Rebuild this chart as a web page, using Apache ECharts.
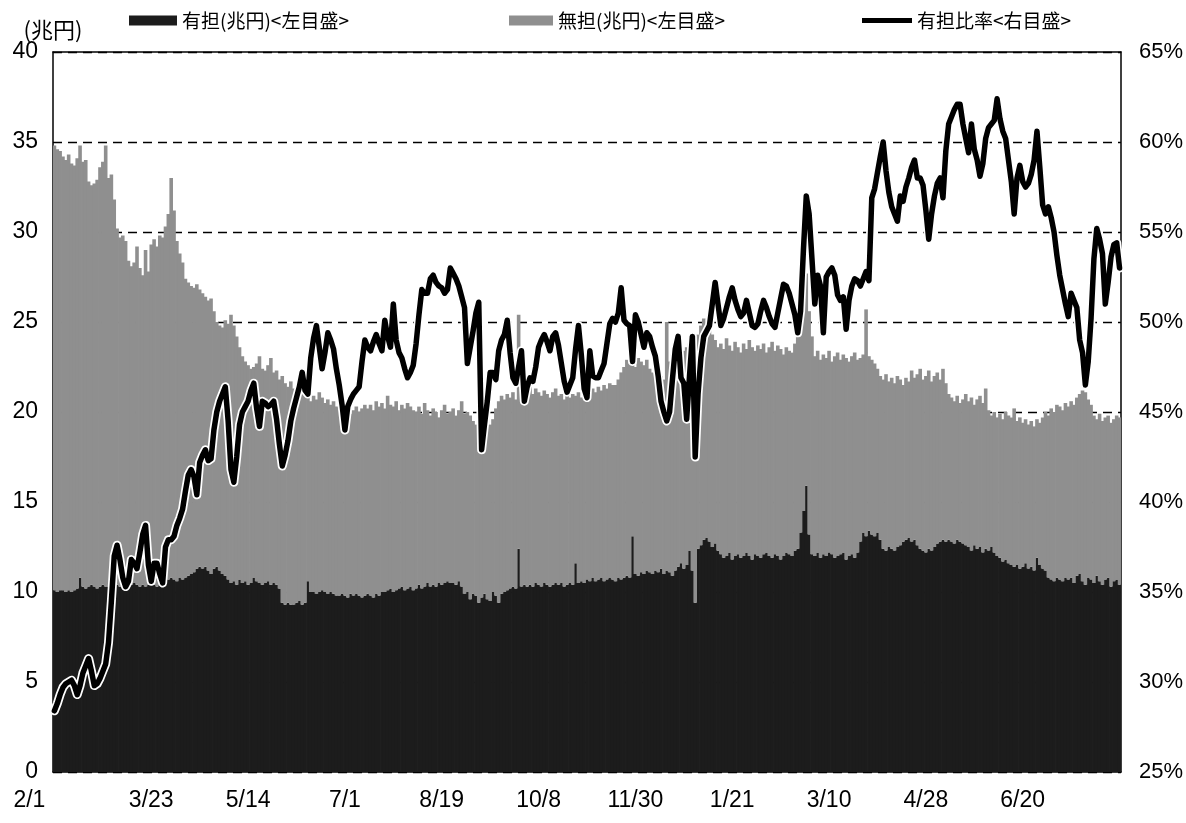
<!DOCTYPE html>
<html>
<head>
<meta charset="utf-8">
<script src="https://cdn.jsdelivr.net/npm/echarts@6/dist/echarts.min.js"></script>
<style>
html,body{margin:0;padding:0;background:#fff;}
#chart{width:1186px;height:823px;}
</style>
</head>
<body>
<div id="chart"></div>
<script>
// tick labels shown every 34 business days
const tickLabels = ['2/1','3/23','5/14','7/1','8/19','10/8','11/30','1/21','3/10','4/28','6/20'];
const tickEvery = 34;

// 有担 (兆円), left axis
const yuTan = [
10.1,10.0,10.1,10.1,10.0,10.1,10.0,10.1,10.2,10.8,
10.3,10.2,10.3,10.4,10.3,10.2,10.3,10.4,10.3,10.3,
10.4,10.3,10.4,10.3,10.5,10.4,10.3,10.4,10.5,10.4,
10.3,10.4,10.3,10.4,10.5,10.4,10.3,10.4,10.7,10.8,
10.7,10.8,10.7,10.6,10.8,10.7,10.8,10.9,11.0,11.1,
11.3,11.4,11.3,11.4,11.2,11.0,11.3,11.4,11.2,11.0,
10.9,10.7,10.5,10.6,10.4,10.7,10.5,10.6,10.4,10.5,
10.8,10.6,10.5,10.4,10.5,10.6,10.4,10.5,10.4,10.2,
9.4,9.3,9.4,9.3,9.3,9.4,9.5,9.3,9.4,10.6,
10.0,10.0,9.9,10.0,10.1,10.0,9.9,10.0,9.9,9.8,
9.8,9.9,9.8,9.7,9.9,9.8,9.9,9.8,9.7,9.8,
9.9,9.8,9.7,9.9,9.8,10.0,10.0,10.1,10.2,10.0,
10.1,10.2,10.3,10.1,10.2,10.3,10.1,10.2,10.4,10.2,
10.3,10.5,10.3,10.4,10.3,10.5,10.4,10.5,10.6,10.5,
10.5,10.4,10.6,10.3,9.9,10.0,9.6,9.9,9.8,9.4,
9.7,9.9,9.6,9.5,10.0,9.8,9.4,9.9,10.0,10.1,
10.2,10.3,10.2,12.4,10.3,10.4,10.3,10.4,10.3,10.5,
10.4,10.3,10.5,10.4,10.3,10.4,10.5,10.4,10.5,10.3,
10.4,10.5,10.4,11.6,10.5,10.6,10.5,10.7,10.6,10.8,
10.6,10.7,10.8,10.6,10.7,10.8,10.7,10.6,10.8,10.7,
10.8,10.9,10.8,13.1,11.0,10.9,11.1,11.0,11.2,11.1,
11.0,11.2,11.1,11.3,11.0,11.2,11.1,10.9,11.2,11.4,
11.6,11.3,11.5,12.3,11.2,9.4,12.4,12.6,12.9,13.0,
12.8,12.5,12.7,12.3,12.1,11.9,12.0,12.2,11.8,12.0,
12.1,11.9,12.0,12.2,12.0,11.8,12.1,12.0,11.9,12.1,
12.2,12.0,11.9,12.1,12.0,11.8,12.0,12.2,12.1,12.0,
12.3,12.4,13.3,14.5,15.9,13.2,12.1,12.0,12.2,11.9,
12.1,12.0,12.2,12.1,11.9,12.0,12.1,12.2,11.8,12.0,
12.1,11.9,12.2,12.8,13.3,13.1,13.4,13.2,13.1,13.3,
12.9,12.4,12.3,12.5,12.4,12.3,12.5,12.6,12.8,12.9,
13.0,12.8,12.9,12.6,12.4,12.3,12.2,12.4,12.3,12.5,
12.7,12.8,12.9,12.8,12.9,12.8,12.7,12.9,12.8,12.7,
12.6,12.5,12.3,12.6,12.4,12.5,12.2,12.4,12.3,12.5,
12.2,12.0,11.9,11.7,11.8,11.6,11.5,11.4,11.5,11.3,
11.4,11.6,11.3,11.4,11.2,11.9,11.5,11.3,11.2,10.8,
10.7,10.6,10.8,10.7,10.6,10.8,10.7,10.8,10.5,10.9,
11.0,10.6,10.4,10.8,10.7,10.5,10.9,10.6,10.4,10.7,
10.8,10.3,10.6,10.7,10.4
];

// 無担 (兆円), left axis, stacked on 有担
const muTan = [
24.7,24.6,24.4,24.1,24.0,24.2,23.8,23.6,23.9,24.0,
23.6,23.8,22.5,22.2,22.4,22.7,23.3,23.5,24.5,22.7,
22.8,21.5,19.8,19.4,19.3,19.1,18.1,17.7,17.8,18.8,
17.7,17.2,18.7,17.4,18.8,19.2,18.9,19.4,19.0,19.5,
20.3,22.2,20.5,18.9,18.0,17.6,16.6,16.3,16.0,15.8,
15.8,15.4,15.3,15.0,15.0,15.3,14.3,13.6,13.6,13.7,
14.2,14.2,14.9,14.2,13.8,12.9,12.6,12.2,12.2,11.9,
11.7,12.1,12.6,12.0,11.8,12.0,12.6,11.7,11.9,11.6,
12.6,12.3,12.0,12.4,12.0,11.6,12.0,11.8,11.5,10.2,
10.6,10.9,10.8,11.1,10.7,10.5,10.8,10.4,10.7,10.5,
10.3,10.5,10.2,10.5,10.0,10.3,10.4,10.2,10.5,10.6,
10.3,10.6,10.4,10.7,10.5,10.5,10.2,10.8,10.2,10.3,
10.5,9.9,10.1,10.1,10.3,10.0,10.0,9.8,9.9,9.7,
10.2,9.6,9.5,9.8,9.7,9.2,9.7,9.9,9.3,9.5,
9.7,9.4,9.5,10.3,10.0,10.0,10.2,9.6,9.5,10.2,
9.5,9.5,10.1,9.8,9.6,10.4,11.2,11.0,10.7,10.9,
10.6,10.8,10.5,13.0,10.7,10.4,10.9,11.0,10.7,10.8,
10.7,10.6,10.7,10.6,10.5,10.7,10.8,10.5,10.5,10.4,
10.8,10.3,10.6,9.3,10.6,10.2,10.4,10.5,10.4,10.5,
10.5,10.7,10.4,10.9,10.6,10.8,10.8,10.9,11.0,11.5,
11.7,12.0,11.9,10.0,11.5,12.1,11.7,11.6,11.7,11.3,
11.2,10.9,10.8,10.7,10.8,13.8,11.7,12.3,12.3,11.9,
12.1,12.1,12.1,11.5,12.7,12.6,11.9,12.2,12.3,12.0,
11.8,11.8,11.3,11.3,11.7,11.6,12.1,11.5,11.6,11.9,
11.5,11.4,11.8,11.3,12.0,11.8,11.3,11.7,11.6,11.7,
11.1,11.6,12.0,11.3,11.7,11.7,11.2,11.4,11.3,11.3,
11.5,12.1,12.0,12.0,11.8,12.4,12.1,11.1,11.2,11.0,
11.1,11.0,11.2,10.7,11.2,11.3,10.8,11.0,11.2,10.8,
11.0,11.4,10.7,10.2,9.9,12.6,9.7,9.7,9.6,9.1,
9.1,9.4,9.8,9.2,9.5,9.3,9.5,9.2,8.7,9.0,
8.7,9.5,9.0,9.5,10.0,9.5,9.8,9.9,9.4,9.5,
9.5,9.0,9.5,8.8,8.1,8.0,7.9,8.0,7.7,8.0,
8.4,8.1,8.5,7.8,8.3,8.4,8.3,8.9,7.8,7.3,
7.8,7.7,8.0,7.9,8.2,8.2,8.2,8.8,8.0,8.4,
8.0,8.0,8.0,8.1,8.0,7.7,7.9,8.4,8.8,9.0,
9.5,9.4,9.6,9.6,9.5,9.7,9.6,9.8,9.9,9.9,
10.0,10.6,10.7,9.9,9.7,9.3,8.7,9.3,9.1,9.0,
9.0,9.1,9.0,9.1,9.3
];

// 有担比率 (%), right axis
const ratio = [
28.4,28.8,29.3,29.7,29.9,30.0,30.1,29.8,29.3,29.8,
30.5,30.9,31.3,30.6,29.8,29.9,30.2,30.6,31.0,32.2,
34.5,37.0,37.6,36.8,35.8,35.3,35.6,36.8,36.6,36.3,
37.2,38.2,38.7,36.5,35.6,36.6,36.6,36.0,35.5,37.5,
37.9,37.9,38.1,38.7,39.1,39.6,40.6,41.5,41.8,41.4,
40.4,42.2,42.6,42.9,42.3,42.4,44.0,45.0,45.6,46.0,
46.4,44.5,41.8,41.1,42.5,44.3,45.0,45.3,45.6,46.2,
46.6,45.2,44.2,45.6,45.5,45.3,45.4,45.6,44.6,43.2,
42.0,42.6,43.4,44.5,45.2,45.8,46.4,47.2,46.2,46.0,
48.0,49.1,49.8,48.6,47.4,48.3,49.4,49.0,48.5,47.4,
46.5,45.4,44.0,45.3,45.7,46.0,46.2,46.4,47.8,49.0,
48.6,48.4,48.9,49.3,48.8,48.4,50.1,49.2,48.6,51.0,
49.0,48.3,48.0,47.4,46.9,47.2,47.6,48.8,50.4,51.8,
51.6,51.6,52.4,52.6,52.2,52.0,51.9,51.6,51.8,53.0,
52.7,52.4,52.0,51.4,50.8,47.7,48.6,49.5,50.5,51.1,
42.9,44.3,45.6,47.2,47.2,46.8,48.4,49.0,49.3,50.1,
48.3,46.9,46.6,47.5,48.4,45.6,46.4,46.9,46.7,47.5,
48.6,49.0,49.3,48.9,48.4,49.2,49.4,48.7,47.7,46.7,
46.1,46.5,46.9,48.5,49.8,48.2,46.3,45.8,48.4,47.0,
46.9,46.9,47.3,47.7,48.8,49.9,50.2,50.0,50.5,51.9,
50.1,49.9,49.8,47.8,50.4,50.0,49.3,48.6,49.4,49.2,
48.6,48.1,47.0,45.6,45.0,44.5,45.0,46.8,48.5,49.2,
46.9,46.6,44.6,47.0,49.2,42.5,46.0,48.0,49.2,49.5,
49.8,51.0,52.2,51.0,49.8,50.2,50.8,51.4,51.9,51.2,
50.7,50.3,50.5,51.2,50.5,49.8,49.7,49.9,50.6,51.2,
50.8,50.3,49.9,49.7,50.5,51.3,52.1,52.0,51.6,51.0,
50.4,49.4,50.6,54.0,57.0,56.0,53.5,51.0,52.6,52.0,
49.4,52.5,52.8,53.0,52.6,51.5,51.2,51.4,49.6,51.2,
52.0,52.4,52.3,52.0,52.4,52.8,52.3,56.9,57.4,58.3,
59.2,60.0,58.4,57.2,56.4,56.0,55.6,57.0,56.7,57.5,
58.0,58.6,59.0,58.0,58.0,57.6,56.2,54.6,56.0,57.0,
57.7,58.0,56.9,59.5,61.0,61.4,61.8,62.1,62.1,61.0,
60.2,59.4,61.0,59.6,59.0,58.1,58.8,60.2,60.8,61.0,
61.2,62.4,61.3,60.6,60.2,59.0,57.8,56.0,58.0,58.7,
57.8,57.5,57.7,58.2,59.0,60.6,58.6,56.5,56.0,56.4,
55.8,55.0,53.7,52.6,51.8,51.0,50.3,51.6,51.2,50.8,
49.0,48.3,46.5,47.8,50.2,53.5,55.2,54.6,53.8,51.0,
52.2,53.6,54.3,54.4,53.0
];

const categories = yuTan.map((_, i) => String(i));

const NUM_FONT = "'Liberation Sans Narrow','Liberation Sans',sans-serif";
const JP_FONT = "'Noto Sans CJK JP','Noto Sans',sans-serif";

const chart = echarts.init(document.getElementById('chart'), null, {renderer: 'canvas'});
const legendText = {fontSize: 19, fontFamily: JP_FONT, color: '#000'};
const numStyle = {color: '#000', fontSize: 23, fontFamily: NUM_FONT};

chart.setOption({
  animation: false,
  backgroundColor: '#fff',
  grid: {left: 53, right: 65, top: 52, bottom: 51},
  legend: [
    {left: 124, top: 6, itemWidth: 48, itemHeight: 10, icon: 'rect', selectedMode: false, data: ['有担(兆円)<左目盛>'], textStyle: legendText},
    {left: 504, top: 6, itemWidth: 44, itemHeight: 10, icon: 'rect', selectedMode: false, data: ['無担(兆円)<左目盛>'], textStyle: legendText},
    {left: 857, top: 6, itemWidth: 50, itemHeight: 5, icon: 'rect', selectedMode: false, data: ['有担比率<右目盛>'], textStyle: legendText}
  ],
  xAxis: [
    {
      type: 'category',
      data: categories,
      boundaryGap: true,
      axisLine: {show: true, lineStyle: {color: '#000', width: 1.5}},
      axisTick: {show: false},
      axisLabel: Object.assign({}, numStyle, {
        interval: tickEvery - 1,
        margin: 17,
        formatter: function (val, idx) {
          if (idx % tickEvery !== 0) return '';
          const t = tickLabels[idx / tickEvery] || '';
          if (idx === 0) return '{first|' + t + '}';
          return t;
        },
        rich: {first: Object.assign({}, numStyle, {padding: [0, 50, 0, 0]})}
      }),
      splitLine: {show: false}
    },
    {
      type: 'category',
      data: categories,
      position: 'top',
      axisLine: {show: true, lineStyle: {color: '#000', width: 1.5}},
      axisTick: {show: false},
      axisLabel: {show: false},
      splitLine: {show: false}
    }
  ],
  yAxis: [
    {
      type: 'value', min: 0, max: 40, interval: 5, position: 'left',
      name: '(兆円)', nameLocation: 'end', nameGap: 8,
      nameTextStyle: {fontSize: 22, fontFamily: JP_FONT, color: '#000', align: 'center'},
      axisLine: {show: true, lineStyle: {color: '#000', width: 1.5}},
      axisTick: {show: true, inside: true, length: 5, lineStyle: {color: '#000'}},
      axisLabel: Object.assign({}, numStyle, {margin: 15}),
      splitLine: {show: true, lineStyle: {color: '#000', width: 1.3, type: [9, 6]}}
    },
    {
      type: 'value', min: 25, max: 65, interval: 5, position: 'right',
      axisLine: {show: true, lineStyle: {color: '#000', width: 1.5}},
      axisTick: {show: false},
      axisLabel: Object.assign({}, numStyle, {fontSize: 22, margin: 18, formatter: '{value}%'}),
      splitLine: {show: false}
    }
  ],
  series: [
    {
      name: '有担(兆円)<左目盛>', type: 'bar', stack: 'amt', yAxisIndex: 0,
      data: yuTan, barWidth: 3.6,
      itemStyle: {color: '#1c1c1c'}
    },
    {
      name: '無担(兆円)<左目盛>', type: 'bar', stack: 'amt', yAxisIndex: 0,
      data: muTan, barWidth: 3.6,
      itemStyle: {color: '#8f8f8f'}
    },
    {
      name: '有担比率_halo', type: 'line', yAxisIndex: 1, data: ratio,
      symbol: 'none', silent: true, z: 3,
      lineStyle: {color: '#fff', width: 9, cap: 'round', join: 'round'}
    },
    {
      name: '有担比率<右目盛>', type: 'line', yAxisIndex: 1, data: ratio,
      symbol: 'none', z: 4, itemStyle: {color: '#000'},
      lineStyle: {color: '#000', width: 5.5, cap: 'round', join: 'round'}
    }
  ]
});
</script>
</body>
</html>
